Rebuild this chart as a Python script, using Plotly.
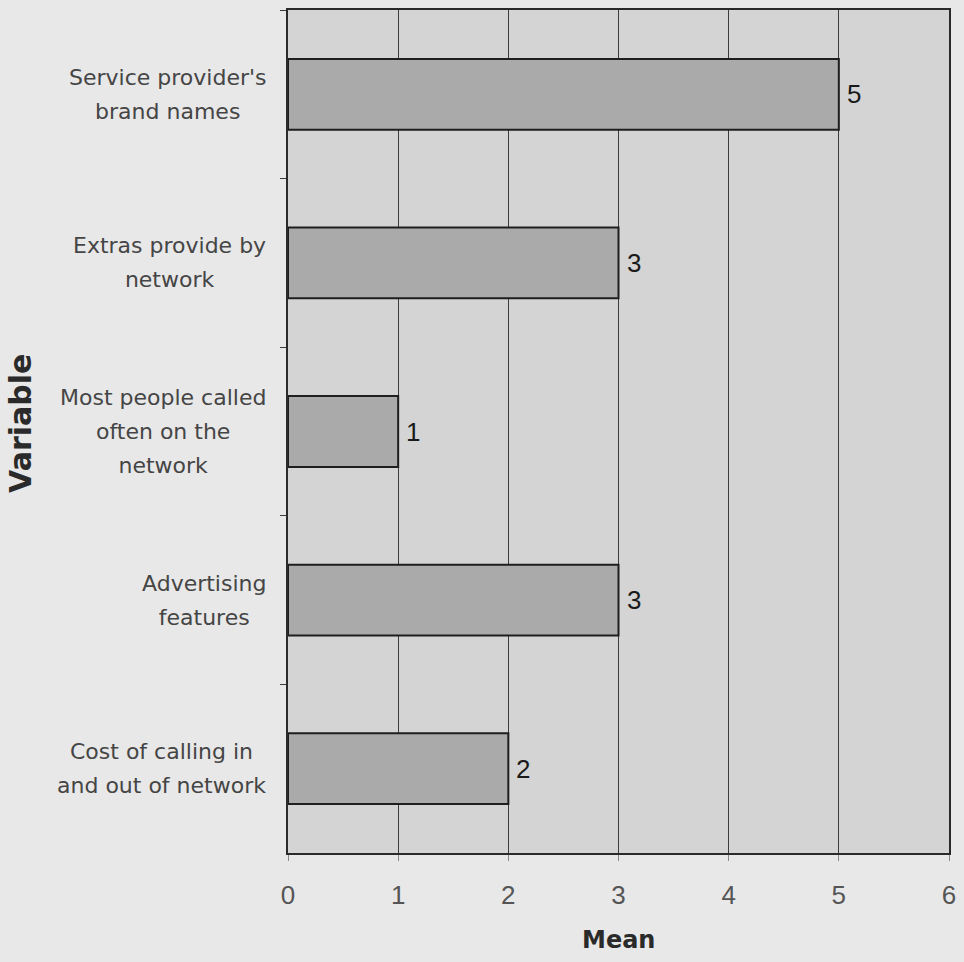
import plotly.graph_objects as go

# Factors and their mean scores (top to bottom)
variables = [
    "Service provider's brand names",
    "Extras provide by network",
    "Most people called often on the network",
    "Advertising features",
    "Cost of calling in and out of network",
]
label_lines = [
    ["Service provider's", "brand names"],
    ["Extras provide by", "network"],
    ["Most people called", "often on the", "network"],
    ["Advertising", "features"],
    ["Cost of calling in", "and out of network"],
]
means = [5, 3, 1, 3, 2]
x_ticks = [0, 1, 2, 3, 4, 5, 6]

PAGE_BG = "#e8e8e8"
PLOT_BG = "#d4d4d4"
BAR_FILL = "#aaaaaa"
INK = "#1e1e1e"
LABEL = "#454545"
SANS = "DejaVu Sans, Verdana, sans-serif"
ARIAL = "Liberation Sans, Arial, sans-serif"

fig = go.Figure()
fig.add_trace(go.Bar(
    x=means,
    y=variables,
    orientation="h",
    width=0.42,
    marker=dict(color=BAR_FILL, line=dict(color=INK, width=2)),
    hoverinfo="skip",
))

annotations = []

# Value labels just past the end of each bar
for cat, val in zip(variables, means):
    annotations.append(dict(
        x=val, xref="x", y=cat, yref="y",
        xanchor="left", yanchor="middle", xshift=6,
        text=str(val), showarrow=False,
        font=dict(family=ARIAL, size=26, color="#1a1a1a"),
    ))

# Centered, multi-line category labels to the left of the axis
# (base size sets the line pitch, inner spans set the glyph size)
for cat, lines in zip(variables, label_lines):
    body = "<br>".join(
        f"<span style='font-size:22px'>{ln}</span>" for ln in lines
    )
    annotations.append(dict(
        x=0, xref="paper", xanchor="right", xshift=-20,
        y=cat, yref="y", yanchor="middle",
        text=body, showarrow=False, align="center",
        font=dict(family=SANS, size=26, color=LABEL),
    ))

# Axis titles
annotations.append(dict(
    x=0.5, xref="paper", y=-0.1035, yref="paper",
    xanchor="center", yanchor="middle",
    text="<b>Mean</b>", showarrow=False,
    font=dict(family=SANS, size=24, color="#2a2a2a"),
))
annotations.append(dict(
    x=0, xref="paper", xshift=-267, xanchor="center",
    y=0.509, yref="paper", yanchor="middle",
    text="<b>Variable</b>", textangle=-90, showarrow=False,
    font=dict(family=SANS, size=30, color="#2a2a2a"),
))

fig.update_layout(
    width=964, height=962,
    margin=dict(l=288, r=11, t=8, b=109),
    paper_bgcolor=PAGE_BG,
    plot_bgcolor=PLOT_BG,
    showlegend=False,
    annotations=annotations,
)
fig.update_xaxes(
    range=[0, 6],
    tickvals=x_ticks,
    ticktext=[str(t) for t in x_ticks],
    showgrid=True, gridcolor="#3c3c3c", gridwidth=1,
    zeroline=False,
    showline=True, linecolor="#2a2a2a", linewidth=2, mirror=True,
    ticks="outside", ticklen=6, tickcolor="#8a8a8a",
    ticklabelstandoff=12,
    tickfont=dict(family=ARIAL, size=26, color="#555555"),
)
fig.update_yaxes(
    categoryorder="array", categoryarray=variables,
    autorange="reversed",
    showticklabels=False,
    showgrid=False, zeroline=False,
    showline=True, linecolor="#2a2a2a", linewidth=2, mirror=True,
    ticks="outside", tickson="boundaries", ticklen=6, tickcolor="#3a3a3a",
)

fig.write_html("out.html")
